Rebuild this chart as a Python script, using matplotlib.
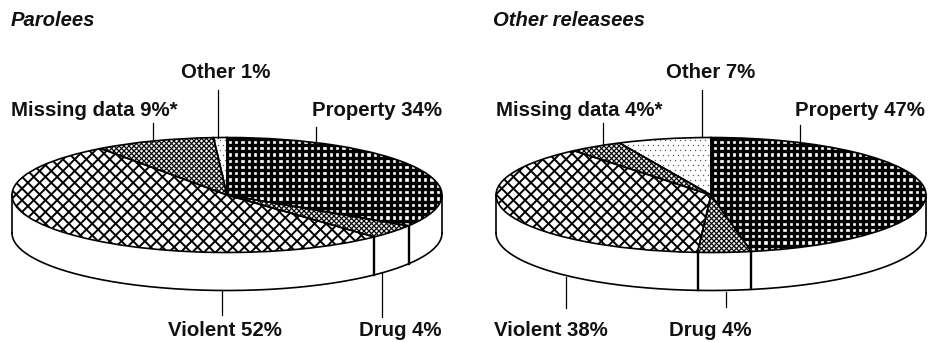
import numpy as np
import matplotlib
matplotlib.use("Agg")
import matplotlib.pyplot as plt
from matplotlib.collections import LineCollection
from matplotlib.patches import PathPatch
from matplotlib.transforms import Affine2D

categories = ["Property", "Drug", "Violent", "Missing data", "Other"]
parolees = [34, 4, 52, 9, 1]
other_releasees = [47, 4, 38, 4, 7]
panel_titles = ["Parolees", "Other releasees"]

W, H = 931, 342
RX, RY, DEPTH = 215, 57.5, 38

plt.rcParams["font.family"] = ["Liberation Sans", "DejaVu Sans"]

fig = plt.figure(figsize=(W / 100, H / 100), dpi=100, facecolor="white")
px = Affine2D().scale(1 / W, -1 / H).translate(0, 1) + fig.transFigure


def grid_fill(ax, wedge, spacing, lw):
    """Square lattice of thick lines, leaving white dots."""
    xs = np.arange(0, W, spacing)
    ys = np.arange(0, H, spacing)
    segs = [[(x, 0), (x, H)] for x in xs] + [[(0, y), (W, y)] for y in ys]
    lc = LineCollection(segs, colors="black", linewidths=lw, transform=px, zorder=3.5)
    ax.add_collection(lc, autolim=False)
    lc.set_clip_path(wedge)


def cross_fill(ax, wedge, spacing, lw, knot=0.0):
    """Diagonal lattice; spacing is the horizontal distance between crossings."""
    offs = np.arange(-H, W + H, spacing)
    segs = [[(o, 0), (o + H, H)] for o in offs] + [[(o + H, 0), (o, H)] for o in offs]
    lc = LineCollection(segs, colors="black", linewidths=lw, transform=px, zorder=3.5)
    ax.add_collection(lc, autolim=False)
    lc.set_clip_path(wedge)
    if knot:
        # heavier joins where the diagonals cross
        nx, ny = int(W / spacing) + 2, int(H / spacing) + 2
        xs, ys = np.meshgrid(np.arange(-nx, nx) * spacing / 2, np.arange(-ny, ny) * spacing / 2)
        keep = (np.rint(xs * 2 / spacing) + np.rint(ys * 2 / spacing)) % 2 == 0
        kx = xs[keep] + W / 2 - (W / 2) % spacing
        ky = ys[keep] + H / 2 - (H / 2) % spacing
        sc = ax.scatter(kx + (H % spacing) / 2 * 0, ky, s=knot, c="black", linewidths=0,
                        transform=px, zorder=3.5)
        sc.set_clip_path(wedge)


def stipple_fill(ax, wedge, spacing, size):
    xs, ys = np.meshgrid(np.arange(0, W, spacing), np.arange(0, H, spacing))
    xs = xs + (np.arange(xs.shape[0])[:, None] % 2) * spacing / 2
    sc = ax.scatter(xs.ravel(), ys.ravel(), s=size, c="#555555", linewidths=0,
                    transform=px, zorder=3.5)
    sc.set_clip_path(wedge)


def draw_pie(values, cx, cy):
    ax = fig.add_axes([(cx - RX) / W, 1 - (cy + RY) / H, 2 * RX / W, 2 * RY / H])
    d = DEPTH / RY

    # side wall of the disc
    t = np.linspace(np.pi, 2 * np.pi, 200)
    ax.fill_between(np.cos(t), np.sin(t), np.sin(t) - d, color="white", zorder=1, clip_on=False)
    ax.plot(np.cos(t), np.sin(t) - d, color="black", lw=1.2, zorder=2, clip_on=False)
    for x in (-1, 1):
        ax.plot([x, x], [0, -d], color="black", lw=1.2, zorder=2, clip_on=False)

    wedges, _ = ax.pie(values, startangle=90, counterclock=False, radius=1,
                       wedgeprops=dict(edgecolor="none", facecolor="white", zorder=3))
    ax.set_xlim(-1, 1)
    ax.set_ylim(-1, 1)
    ax.set_aspect("auto")
    ax.axis("off")

    for w in wedges:
        w.set_clip_on(False)
    property_w, drug_w, violent_w, missing_w, other_w = wedges
    grid_fill(ax, property_w, 6.3, 2.4)
    cross_fill(ax, drug_w, 5.0, 0.9)
    cross_fill(ax, violent_w, 11.7, 1.4)
    cross_fill(ax, missing_w, 5.0, 0.9)
    stipple_fill(ax, other_w, 5.0, 1.0)

    # slice outlines sit above the fills
    for w in wedges:
        ax.add_patch(PathPatch(w.get_path(), transform=w.get_transform(), fill=False,
                               edgecolor="black", linewidth=1.2, zorder=4, clip_on=False))

    # Drug slice boundaries continue down the wall where they face the viewer
    cum = np.cumsum(values) / 100 * 2 * np.pi
    for a in cum:
        x, y = np.sin(a), np.cos(a)
        if y < 0:
            ax.plot([x, x], [y, y - d], color="black", lw=1.7, zorder=2, clip_on=False)
    return ax


def leader(x, y0, y1):
    fig.add_artist(plt.Line2D([x, x], [y0, y1], color="black", lw=0.9, transform=px))


def label(x, y, s):
    fig.text(x, y, s, transform=px, fontsize=14.7, fontweight="bold", color="#111111",
             ha="center", va="center")


def pct(i, values, suffix=""):
    return f"{categories[i]} {values[i]}%{suffix}"


draw_pie(parolees, 227, 195)
draw_pie(other_releasees, 711, 195)

fig.text(11, 21, panel_titles[0], transform=px, fontsize=14.6, fontstyle="italic",
         fontweight="bold", color="#111111", va="center")
fig.text(493, 21, panel_titles[1], transform=px, fontsize=14.6, fontstyle="italic",
         fontweight="bold", color="#111111", va="center")

# Left pie labels
label(226, 72, pct(4, parolees))
label(94, 110, pct(3, parolees, "*"))
label(377, 110, pct(0, parolees))
label(225, 330, pct(2, parolees))
label(400, 331, pct(1, parolees))
leader(218, 90, 138)
leader(153, 123, 139)
leader(316, 127, 141)
leader(222, 291, 315)
leader(382, 273, 317)

# Right pie labels
label(711, 72, pct(4, other_releasees))
label(579, 110, pct(3, other_releasees, "*"))
label(860, 110, pct(0, other_releasees))
label(551, 331, pct(2, other_releasees))
label(710, 331, pct(1, other_releasees))
leader(702, 90, 137)
leader(603, 123, 145)
leader(800, 125, 141)
leader(566, 277, 308)
leader(726, 292, 307)

fig.savefig("out.png", dpi=100, facecolor="white")
